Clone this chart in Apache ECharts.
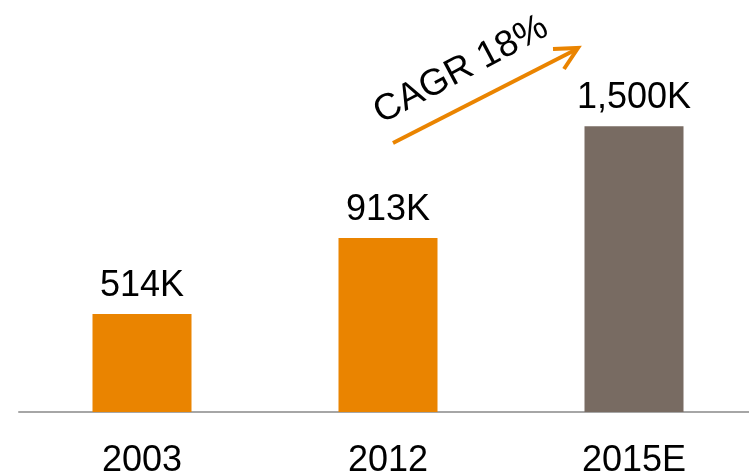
<!DOCTYPE html>
<html>
<head>
<meta charset="utf-8">
<script src="https://cdn.jsdelivr.net/npm/echarts@6/dist/echarts.min.js"></script>
<style>
  html, body { margin: 0; padding: 0; background: #fff; overflow: hidden; }
</style>
</head>
<body>
<!-- 外层裁剪，内层比窗口略宽，让坐标轴一直延伸到右边缘 -->
<div style="width: 749px; height: 473px; overflow: hidden">
  <div id="container" style="width: 757px; height: 473px"></div>
</div>
<script>
// 数据
const years = ['2003', '2012', '2015E']
const values = [514, 913, 1500]
const valueLabels = ['514K', '913K', '1,500K']
const barColors = ['#EA8400', '#EA8400', '#786B62']
const cagrText = 'CAGR 18%'

const myChart = echarts.init(document.getElementById('container'))

const option = {
  animation: false,
  grid: { left: 19, right: 0, top: 31, bottom: 61, containLabel: false, outerBoundsMode: 'none' },
  xAxis: {
    type: 'category',
    data: years,
    axisLine: { lineStyle: { color: '#A6A6A6', width: 2 } },
    axisTick: { show: false },
    axisLabel: {
      color: '#000',
      fontSize: 36,
      fontFamily: 'Liberation Sans, Arial, sans-serif',
      margin: 31
    }
  },
  yAxis: {
    type: 'value',
    min: 0,
    max: 2000,
    show: false,
    splitLine: { show: false }
  },
  series: [
    {
      type: 'bar',
      barWidth: 99,
      data: values.map((v, i) => ({ value: v, itemStyle: { color: barColors[i] } })),
      label: {
        show: true,
        position: 'top',
        distance: 10,
        color: '#000',
        fontSize: 36,
        fontFamily: 'Liberation Sans, Arial, sans-serif',
        formatter: (p) => valueLabels[p.dataIndex]
      }
    }
  ],
  // 增长箭头和 CAGR 文字
  graphic: [
    {
      type: 'line',
      shape: { x1: 393, y1: 143, x2: 577, y2: 49 },
      style: { stroke: '#EA8400', lineWidth: 4 }
    },
    {
      type: 'polyline',
      shape: { points: [[553, 49], [578, 48], [564, 69]] },
      style: { stroke: '#EA8400', lineWidth: 4, fill: null, lineJoin: 'miter' }
    },
    {
      type: 'text',
      x: 461,
      y: 70,
      rotation: 28 * Math.PI / 180,
      style: {
        text: cagrText,
        fill: '#000',
        fontSize: 37,
        fontFamily: 'Liberation Sans, Arial, sans-serif',
        align: 'center',
        verticalAlign: 'middle'
      }
    }
  ]
}

myChart.setOption(option)
</script>
</body>
</html>
